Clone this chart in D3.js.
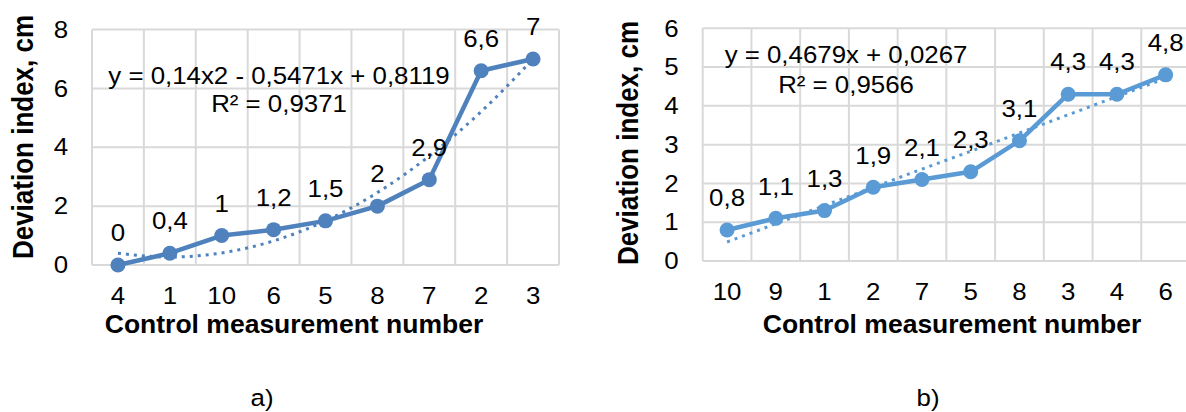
<!DOCTYPE html>
<html>
<head>
<meta charset="utf-8">
<script src="https://cdn.jsdelivr.net/npm/d3@7"></script>
<style>
  body { margin: 0; background: #fff; }
  svg { display: block; font-family: "Liberation Sans", Arial, sans-serif; }
</style>
</head>
<body>
<div id="chart"></div>
<script>
// chart a)
const catsA = ["4", "1", "10", "6", "5", "8", "7", "2", "3"];
const valuesA = [0, 0.4, 1, 1.2, 1.5, 2, 2.9, 6.6, 7];
const labelsA = ["0", "0,4", "1", "1,2", "1,5", "2", "2,9", "6,6", "7"];
// polynomial trendline, one value per category
const trendA = [0.40, 0.27, 0.41, 0.82, 1.50, 2.46, 3.70, 5.21, 7.00];
const ticksA = [0, 2, 4, 6, 8];
const eqA = ["y = 0,14x2 - 0,5471x + 0,8119", "R² = 0,9371"];

// chart b)
const catsB = ["10", "9", "1", "2", "7", "5", "8", "3", "4", "6"];
const valuesB = [0.8, 1.1, 1.3, 1.9, 2.1, 2.3, 3.1, 4.3, 4.3, 4.8];
const labelsB = ["0,8", "1,1", "1,3", "1,9", "2,1", "2,3", "3,1", "4,3", "4,3", "4,8"];
// linear trendline
const trendB = [0.49, 0.96, 1.43, 1.90, 2.37, 2.83, 3.30, 3.77, 4.24, 4.71];
const ticksB = [0, 1, 2, 3, 4, 5, 6];
const eqB = ["y = 0,4679x + 0,0267", "R² = 0,9566"];

const xTitle = "Control measurement number";
const yTitle = "Deviation index, cm";

const W = 1186, H = 412;
const svg = d3.select("#chart").append("svg")
    .attr("width", W)
    .attr("height", H)
    .attr("viewBox", [0, 0, W, H]);

const gridColor = "#d9d9d9";
const fs = 23.5;     // regular text size
const stretch = 1.1; // the source text is a bit wider than plain Arial

// put a regular text at (x,y), slightly widened
function place(sel, fx, fy) {
    sel.attr("transform", (d, i) => `translate(${fx(d, i)},${fy(d, i)}) scale(${stretch},1)`)
        .attr("font-size", fs)
        .attr("dy", "0.35em")
        .attr("fill", "#000");
}

function drawChart(o) {
    const g = svg.append("g");

    const x = d3.scaleBand()
        .domain(o.cats)
        .range([o.left, o.right]);
    const y = d3.scaleLinear()
        .domain([0, o.ticks[o.ticks.length - 1]])
        .range([o.bottom, o.top]);
    const cx = d => x(d) + x.bandwidth() / 2;

    // horizontal gridlines
    g.append("g")
        .selectAll("line")
        .data(o.ticks)
        .join("line")
        .attr("x1", o.left)
        .attr("x2", o.right)
        .attr("y1", d => y(d))
        .attr("y2", d => y(d))
        .attr("stroke", gridColor)
        .attr("stroke-width", 2);

    // vertical gridlines between categories
    const bounds = o.cats.map(d => x(d)).concat([o.right]);
    g.append("g")
        .selectAll("line")
        .data(bounds)
        .join("line")
        .attr("x1", d => d)
        .attr("x2", d => d)
        .attr("y1", o.top)
        .attr("y2", o.bottom)
        .attr("stroke", gridColor)
        .attr("stroke-width", 2);

    // y tick labels
    g.append("g")
        .selectAll("text")
        .data(o.ticks)
        .join("text")
        .attr("text-anchor", "end")
        .call(place, () => o.left - 24, d => y(d))
        .text(d => d);

    // x tick labels
    g.append("g")
        .selectAll("text")
        .data(o.cats)
        .join("text")
        .attr("text-anchor", "middle")
        .call(place, d => cx(d), () => o.bottom + 31)
        .text(d => d);

    // axis titles
    g.append("text")
        .attr("x", o.xTitleX)
        .attr("y", 324)
        .attr("dy", "0.35em")
        .attr("text-anchor", "middle")
        .attr("font-size", 26.5)
        .attr("font-weight", "bold")
        .text(xTitle);

    g.append("text")
        .attr("transform", `translate(${o.yTitleX},${o.yTitleY}) rotate(-90) scale(1,${stretch})`)
        .attr("dy", "0.35em")
        .attr("text-anchor", "middle")
        .attr("font-size", 26)
        .attr("font-weight", "bold")
        .text(yTitle);

    // trendline (dotted)
    const trendLine = d3.line()
        .x((d, i) => cx(o.cats[i]))
        .y(d => y(d))
        .curve(d3.curveMonotoneX);
    g.append("path")
        .datum(o.trend)
        .attr("fill", "none")
        .attr("stroke", o.color)
        .attr("stroke-width", 3)
        .attr("stroke-dasharray", "3 5")
        .attr("d", trendLine);

    // series line + markers
    const line = d3.line()
        .x((d, i) => cx(o.cats[i]))
        .y(d => y(d));
    g.append("path")
        .datum(o.values)
        .attr("fill", "none")
        .attr("stroke", o.color)
        .attr("stroke-width", 4.5)
        .attr("stroke-linejoin", "round")
        .attr("d", line);

    g.append("g")
        .selectAll("circle")
        .data(o.values)
        .join("circle")
        .attr("cx", (d, i) => cx(o.cats[i]))
        .attr("cy", d => y(d))
        .attr("r", 7.5)
        .attr("fill", o.color);

    // data labels
    g.append("g")
        .selectAll("text")
        .data(o.values)
        .join("text")
        .attr("text-anchor", "middle")
        .call(place, (d, i) => cx(o.cats[i]), d => y(d) - 32)
        .text((d, i) => o.labels[i]);

    // trendline equation
    g.append("g")
        .selectAll("text")
        .data(o.eq)
        .join("text")
        .attr("text-anchor", "middle")
        .call(place, () => o.eqX, (d, i) => o.eqY + i * o.eqGap)
        .text(d => d);

    // caption
    g.append("text")
        .attr("text-anchor", "middle")
        .call(place, () => o.capX, () => 398)
        .text(o.caption);
}

drawChart({
    cats: catsA, values: valuesA, labels: labelsA, trend: trendA, ticks: ticksA, eq: eqA,
    left: 92, right: 559, top: 29.5, bottom: 265,
    color: "#4f81bd",
    xTitleX: 294, yTitleX: 23, yTitleY: 137,
    eqX: 279, eqY: 76, eqGap: 28,
    capX: 262, caption: "a)"
});

drawChart({
    cats: catsB, values: valuesB, labels: labelsB, trend: trendB, ticks: ticksB, eq: eqB,
    left: 702.7, right: 1190, top: 28.3, bottom: 261,
    color: "#5b9bd5",
    xTitleX: 952, yTitleX: 628, yTitleY: 143,
    eqX: 846, eqY: 55, eqGap: 30,
    capX: 928, caption: "b)"
});
</script>
</body>
</html>
